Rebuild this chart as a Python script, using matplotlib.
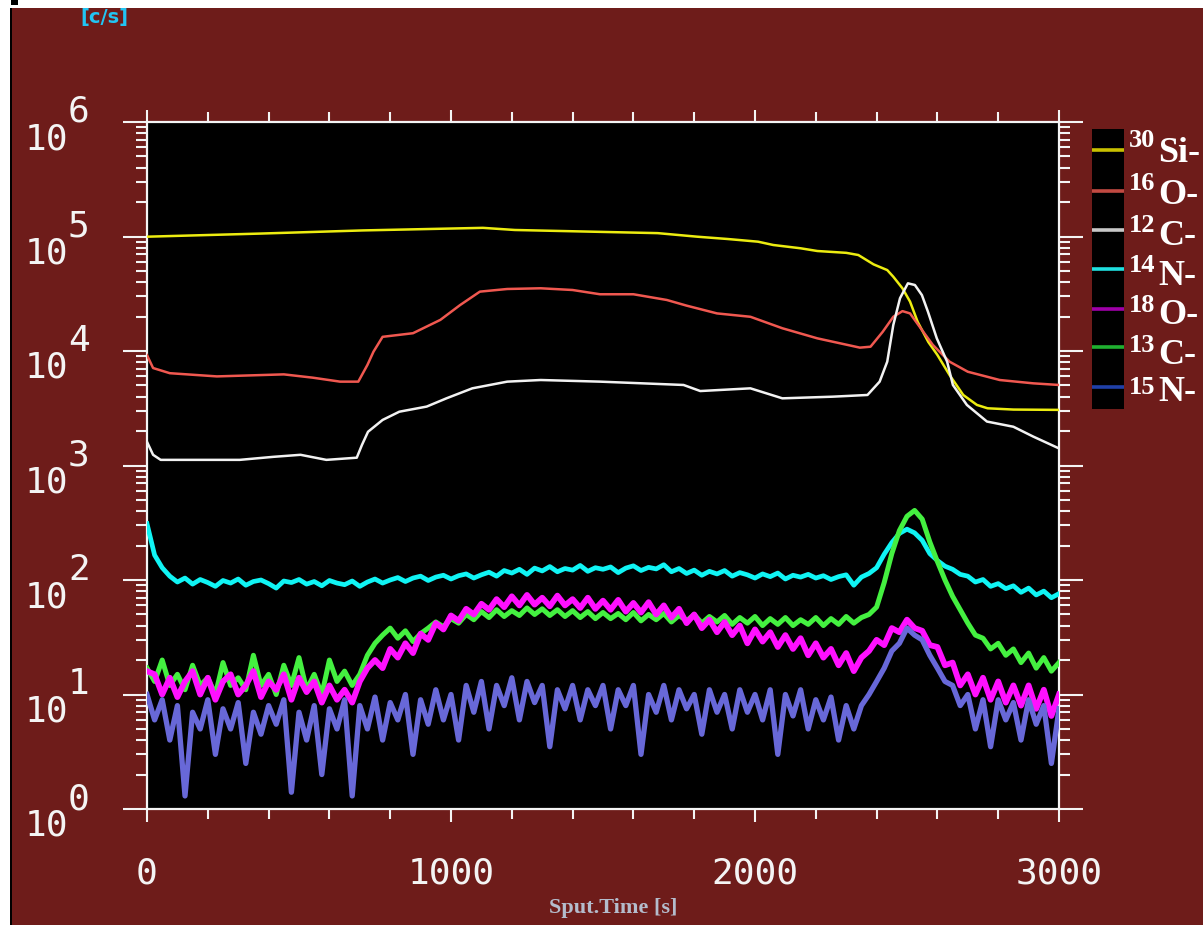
import numpy as np
import matplotlib
matplotlib.use("Agg")
import matplotlib.pyplot as plt
import matplotlib.ticker as mticker
from matplotlib.patches import Rectangle
from matplotlib.transforms import blended_transform_factory

# ---- data (counts per second vs sputter time) ----
si30_t = [0, 370, 710, 1105, 1210, 1680, 1810, 1910, 2010, 2060, 2150, 2205, 2300, 2340,
          2390, 2435, 2455, 2485, 2510, 2535, 2570, 2600, 2640, 2685, 2730, 2765, 2850, 3000]
si30_v = [99600, 106000, 113000, 119000, 114000, 107000, 99600, 95100, 90100, 84300, 78900,
          74700, 72000, 68900, 57100, 50900, 44500, 35300, 27000, 18000, 12000, 9230, 6170,
          4130, 3380, 3160, 3080, 3060]

o16_t = [0, 20, 75, 230, 450, 545, 635, 695, 725, 745, 775, 875, 965, 1030, 1095, 1185, 1295,
         1400, 1490, 1600, 1710, 1775, 1875, 1985, 2090, 2205, 2345, 2380, 2420, 2455, 2485,
         2510, 2545, 2585, 2640, 2700, 2805, 2915, 3000]
o16_v = [9200, 7100, 6400, 6000, 6250, 5850, 5400, 5400, 7550, 9860, 13300, 14300, 18700,
         25200, 33000, 34800, 35300, 34100, 31300, 31300, 27900, 24900, 21300, 19900, 15800,
         12900, 10700, 10900, 14700, 19900, 22300, 21300, 15800, 11300, 8070, 6590, 5580,
         5220, 5050]

c12_t = [0, 20, 45, 305, 415, 505, 590, 690, 707, 727, 775, 830, 920, 985, 1070, 1185, 1295,
         1490, 1765, 1820, 1985, 2090, 2255, 2370, 2410, 2435, 2455, 2477, 2503, 2526, 2549,
         2569, 2598, 2632, 2651, 2697, 2763, 2850, 2915, 3000]
c12_v = [1610, 1240, 1120, 1120, 1190, 1240, 1120, 1170, 1510, 1970, 2500, 2950, 3270, 3860,
         4720, 5400, 5580, 5400, 5050, 4470, 4720, 3860, 3990, 4130, 5400, 8070, 16900, 28900,
         39000, 37700, 30800, 22000, 12900, 8070, 5050, 3380, 2420, 2180, 1790, 1410]

# noisy channels, sampled every 25 s
t_grid = np.arange(0, 3001, 25)

n14_v = [310, 165, 128, 108, 96, 104, 92, 101, 95, 88, 99, 94, 102, 90, 97, 100, 93, 85, 98, 95,
         101, 92, 97, 89, 99, 94, 91, 98, 88, 96, 102, 94, 100, 105, 97, 104, 108, 99, 106, 110,
         102, 109, 113, 104, 111, 117, 108, 121, 115, 124, 112, 127, 120, 131, 118, 126, 122, 134,
         119, 128, 124, 130, 116, 127, 133, 121, 129, 125, 136, 118, 126, 114, 122, 110, 119, 113,
         121, 108, 116, 111, 104, 113, 107, 115, 102, 110, 106, 112, 104, 109, 101, 107, 111, 90,
         106, 114, 128, 168, 212, 255, 278, 258, 222, 170, 148, 132, 124, 112, 108, 96, 101, 88,
         93, 84, 89, 78, 85, 74, 80, 70, 76]

o18_v = [16, 15, 10, 14, 9.5, 13, 16, 10, 14, 9, 13, 15, 10, 12, 16, 9.5, 13, 11, 15, 9, 14, 10.5,
         13, 8.5, 12, 9, 11, 8.5, 13, 17, 20, 17, 25, 21, 28, 23, 34, 30, 42, 37, 49, 44, 56, 50,
         62, 55, 68, 58, 72, 60, 74, 61, 70, 59, 73, 60, 68, 57, 70, 56, 66, 55, 67, 53, 63, 52,
         64, 50, 60, 47, 56, 42, 50, 38, 45, 35, 43, 33, 40, 28, 37, 29, 35, 26, 33, 25, 31, 22,
         28, 21, 25, 18, 23, 16, 21, 24, 30, 27, 38, 35, 45, 38, 36, 27, 26, 18, 19, 12, 15, 10,
         14, 9, 13, 8.5, 12, 8, 12, 7.5, 11, 6.5, 10]

c13_v = [17, 13, 20, 12, 15, 11, 18, 12, 14, 10, 19, 12, 14, 11, 22, 12, 15, 10, 18, 12, 21, 11,
         15, 10, 20, 13, 16, 12, 15, 22, 28, 33, 38, 31, 36, 29, 34, 38, 43, 39, 46, 42, 50, 45,
         53, 47, 55, 48, 54, 49, 57, 50, 56, 49, 55, 48, 54, 47, 53, 46, 52, 46, 51, 45, 52, 44,
         50, 45, 51, 43, 49, 44, 50, 42, 48, 43, 49, 41, 47, 42, 48, 40, 46, 41, 47, 40, 45, 41,
         47, 40, 46, 41, 48, 42, 47, 50, 58, 95, 170, 270, 360, 405, 340, 215, 145, 100, 72, 55,
         42, 33, 31, 25, 28, 22, 25, 19, 23, 17, 21, 16, 19]

n15_v = [10, 6, 9, 4, 8, 1.3, 7, 5, 9, 3, 7.5, 5, 8.5, 2.5, 7, 4.5, 8, 5.5, 9, 1.4, 7, 4, 8, 2,
         7.5, 5, 9, 1.3, 8, 5, 9.5, 4, 8.5, 6, 10, 3, 9, 5.5, 11, 6, 10, 4, 12, 7, 13, 5, 12, 8,
         14, 6, 13, 8.5, 12, 3.5, 11, 7.5, 12, 6, 11, 8, 12, 5, 11, 8, 12, 3, 10, 7, 12, 6, 11,
         7.5, 10, 4.5, 11, 7, 10, 5, 11, 7, 10, 6, 11, 3, 10, 6.5, 11, 5, 9, 6, 9.5, 4, 8, 5, 8,
         10, 13, 17, 24, 28, 38, 33, 30, 22, 17, 13, 12, 8, 10, 5, 9, 3.5, 9, 6, 8.5, 4, 9, 5.5,
         8, 2.5, 7.5]

species_sup = ["30", "16", "12", "14", "18", "13", "15"]
species_sym = ["Si-", "O-", "C-", "N-", "O-", "C-", "N-"]
line_colors = ["#ecec10", "#f05850", "#f2f2f2", "#10f4f4", "#ff10ff", "#44f040", "#6868d8"]
swatch_colors = ["#c8c000", "#c24a42", "#c8c8c8", "#20e0e0", "#a000a8", "#20b030", "#2040a8"]

x_ticks = [0, 1000, 2000, 3000]
x_tick_labels = ["0", "1000", "2000", "3000"]
y_exps = [0, 1, 2, 3, 4, 5, 6]

# ---- layout ----
W, H = 1203, 925
MAROON = "#6e1c1a"
WHITE = "#f4f4f4"


def fx(px):
    return px / W


def fy(py):
    return 1 - py / H


fig = plt.figure(figsize=(W / 100, H / 100), dpi=100, facecolor="white")
fig.add_artist(Rectangle((fx(12), 0), 1 - fx(12), fy(8), transform=fig.transFigure,
                         facecolor=MAROON, edgecolor="none", zorder=0))
fig.add_artist(Rectangle((fx(10), 0), fx(2), fy(8), transform=fig.transFigure,
                         facecolor="black", edgecolor="none", zorder=0))
fig.add_artist(Rectangle((fx(11), fy(5)), fx(7), 5 / H, transform=fig.transFigure,
                         facecolor="black", edgecolor="none", zorder=0))

ax = fig.add_axes([fx(147), fy(809), fx(1059) - fx(147), fy(122) - fy(809)])
ax.set_facecolor("black")

ax.plot(si30_t, si30_v, color=line_colors[0], lw=1.8, zorder=3)
ax.plot(o16_t, o16_v, color=line_colors[1], lw=1.8, zorder=3)
ax.plot(c12_t, c12_v, color=line_colors[2], lw=1.8, zorder=4)
ax.plot(t_grid, n14_v, color=line_colors[3], lw=3.4, zorder=3)
ax.plot(t_grid, c13_v, color=line_colors[5], lw=3.6, zorder=3)
ax.plot(t_grid, o18_v, color=line_colors[4], lw=4.2, zorder=4)
ax.plot(t_grid, n15_v, color=line_colors[6], lw=3.8, zorder=5)

ax.set_xlim(0, 3000)
ax.set_yscale("log")
ax.set_ylim(1, 1e6)

ax.set_xticks(x_ticks, labels=x_tick_labels, fontfamily="DejaVu Sans Mono", fontsize=26,
              color=WHITE)
ax.xaxis.set_minor_locator(mticker.MultipleLocator(200))
ax.yaxis.set_major_locator(mticker.LogLocator(base=10, numticks=10))
ax.yaxis.set_minor_locator(mticker.LogLocator(base=10, subs=np.arange(2, 10), numticks=20))
ax.yaxis.set_major_formatter(mticker.NullFormatter())
ax.yaxis.set_minor_formatter(mticker.NullFormatter())

ax.tick_params(which="both", direction="out", colors=WHITE, top=True, right=True, width=1.5)
ax.tick_params(axis="y", which="major", length=17, labelleft=False)
ax.tick_params(axis="y", which="minor", length=8)
ax.tick_params(axis="x", which="major", length=9, pad=25)
ax.tick_params(axis="x", which="minor", length=7)
for s in ax.spines.values():
    s.set_color(WHITE)
    s.set_linewidth(1.6)

# y labels drawn as "10" plus a raised exponent of the same size
ytrans = blended_transform_factory(ax.transAxes, ax.transData)
lbl_x = (68 - 147) / 912
for e in y_exps:
    ax.text(lbl_x, 10.0 ** e, "10", transform=ytrans, ha="right", va="top",
            fontfamily="DejaVu Sans Mono", fontsize=26, color=WHITE, clip_on=False)
    ax.text(lbl_x, 10.0 ** e, str(e), transform=ytrans, ha="left", va="baseline",
            fontfamily="DejaVu Sans Mono", fontsize=26, color=WHITE, clip_on=False)

ax.set_xlabel("Sput.Time [s]", fontfamily="Liberation Serif", fontweight="bold",
              fontsize=16, color="#b4bccc")
ax.xaxis.set_label_coords(0.511, -0.129)

fig.text(fx(80), fy(8), "[c/s]", ha="left", va="top", color="#22c4f2", fontsize=14,
         fontweight="bold", fontfamily="DejaVu Sans")

# legend: black strip with colour swatches, labels on the backdrop
leg = fig.add_axes([fx(1092), fy(409), fx(1124) - fx(1092), fy(129) - fy(409)])
leg.set_facecolor("black")
leg.set_xticks([])
leg.set_yticks([])
for s in leg.spines.values():
    s.set_visible(False)
leg.set_xlim(0, 1)
leg.set_ylim(409, 129)
swatch_y = [150, 191, 230, 269, 309, 347, 387]
sup_top = [129, 172, 214, 254, 294, 334, 376]
sym_base = [162, 204, 245, 285, 324, 364, 401]
for i in range(len(species_sup)):
    leg.plot([0, 1], [swatch_y[i], swatch_y[i]], color=swatch_colors[i], lw=2.6)
    fig.text(fx(1129), fy(sup_top[i]), species_sup[i], ha="left", va="top",
             fontfamily="Liberation Serif", fontweight="bold", fontsize=19, color="white")
    fig.text(fx(1158), fy(sym_base[i]), species_sym[i], ha="left", va="baseline",
             fontfamily="Liberation Serif", fontweight="bold", fontsize=26, color="white")

fig.savefig("out.png", dpi=100, facecolor=fig.get_facecolor())
